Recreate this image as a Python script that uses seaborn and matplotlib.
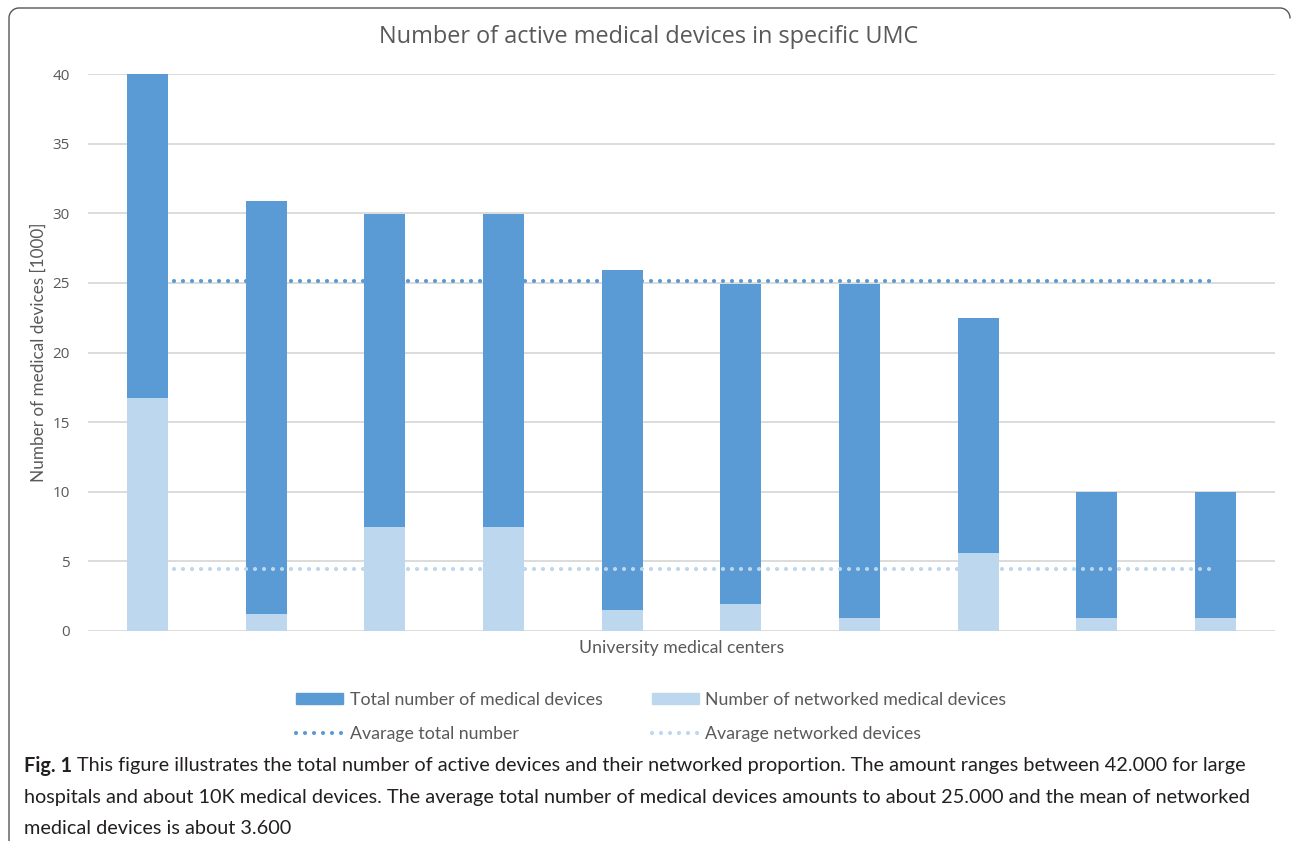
import numpy as np
import pandas as pd
import seaborn as sns
import matplotlib.pyplot as plt
from matplotlib.patches import Patch
from matplotlib.lines import Line2D

# Data (values in thousands of devices)
centers = ['UMC 1', 'UMC 2', 'UMC 3', 'UMC 4', 'UMC 5',
           'UMC 6', 'UMC 7', 'UMC 8', 'UMC 9', 'UMC 10']
total_devices = [40.0, 30.9, 29.95, 29.95, 25.9, 24.9, 24.9, 22.5, 10.0, 10.0]
networked_devices = [16.7, 1.2, 7.5, 7.5, 1.5, 1.95, 0.95, 5.6, 0.95, 0.95]
avg_total = 25.1
avg_networked = 4.45

dark_blue = '#5B9BD5'
light_blue = '#BDD7EE'
grey_text = '#595959'

df = pd.DataFrame({'center': centers, 'total': total_devices,
                   'networked': networked_devices})

sns.set_theme(style='white')
plt.rcParams['font.family'] = ['Open Sans', 'DejaVu Sans']

fig = plt.figure(figsize=(12.93, 8.41), dpi=100)
ax = fig.add_axes([88 / 1293, 1 - 631 / 841, (1275 - 88) / 1293, (631 - 74) / 841])

sns.barplot(data=df, x='center', y='total', color=dark_blue, width=0.345,
            saturation=1, linewidth=0, ax=ax, zorder=2)
sns.barplot(data=df, x='center', y='networked', color=light_blue, width=0.345,
            saturation=1, linewidth=0, ax=ax, zorder=3)

pos = np.arange(len(centers))
dots = dict(linestyle=(0, (0.01, 2.15)), dash_capstyle='round', linewidth=3.0)
sns.lineplot(x=pos, y=[avg_total] * len(pos), color=dark_blue, ax=ax, zorder=4, **dots)
sns.lineplot(x=pos, y=[avg_networked] * len(pos), color=light_blue, ax=ax, zorder=4, **dots)

ax.set_xlim(-0.5, len(centers) - 0.5)
ax.set_ylim(0, 40)
ax.set_yticks(range(0, 41, 5))
ax.set_xticks(pos)
ax.set_xticklabels([])
ax.yaxis.grid(True, color='#D9D9D9', linewidth=1.3, zorder=0)
ax.set_axisbelow(True)
for s in ax.spines.values():
    s.set_visible(False)
ax.tick_params(axis='both', length=0, labelsize=11, labelcolor=grey_text)
ax.tick_params(axis='y', pad=13)

ax.set_xlabel('University medical centers', fontsize=12.7, color=grey_text,
              family=['Lato', 'DejaVu Sans'], labelpad=3)
ax.set_ylabel('Number of medical devices [1000]', fontsize=12.3, color=grey_text,
              family=['Lato', 'DejaVu Sans'], labelpad=4)
fig.text(0.5015, 1 - 37 / 841, 'Number of active medical devices in specific UMC',
         ha='center', va='center', fontsize=16.9, color=grey_text)

handles = [Patch(color=dark_blue),
           Line2D([], [], color=dark_blue, **dots),
           Patch(color=light_blue),
           Line2D([], [], color=light_blue, **dots)]
labels = ['Total number of medical devices', 'Avarage total number',
          'Number of networked medical devices', 'Avarage networked devices']
leg = fig.legend(handles, labels, ncol=2, loc='upper left',
                 bbox_to_anchor=(296 / 1293, 1 - 692 / 841), frameon=False,
                 borderpad=0, borderaxespad=0, handlelength=2.64, handleheight=0.6,
                 handletextpad=0.39, columnspacing=2.75, labelspacing=1.02,
                 prop={'family': ['Lato', 'DejaVu Sans'], 'size': 12.8})
for t in leg.get_texts():
    t.set_color(grey_text)

# Figure frame (left and top edges with rounded corners)
r = 10
t1 = np.linspace(np.pi, np.pi / 2, 20)
t2 = np.linspace(np.pi / 2, 0, 20)
fx = np.concatenate([[9], 9 + r + r * np.cos(t1), 1290 - r + r * np.cos(t2)])
fy = np.concatenate([[841], 8 + r - r * np.sin(t1), 8 + r - r * np.sin(t2)])
fig.add_artist(Line2D(fx / 1293, 1 - fy / 841, color='#555555', linewidth=1.0,
                      transform=fig.transFigure))

# Caption
cap_font = ['Lato', 'DejaVu Sans']
cap_size = 14.3
cap_color = '#231F20'
fig.canvas.draw()
bold = fig.text(24 / 1293, 1 - 766 / 841, 'Fig. 1', fontsize=cap_size, weight='bold',
                family=cap_font, color=cap_color, va='center')
renderer = fig.canvas.get_renderer()
bb = bold.get_window_extent(renderer)
caption_lines = [
    'This figure illustrates the total number of active devices and their networked proportion. The amount ranges between 42.000 for large',
    'hospitals and about 10K medical devices. The average total number of medical devices amounts to about 25.000 and the mean of networked',
    'medical devices is about 3.600',
]
fig.text((bb.x1 + 5) / 1293, 1 - 766 / 841, caption_lines[0], fontsize=cap_size,
         family=cap_font, color=cap_color, va='center')
fig.text(24 / 1293, 1 - 797 / 841, caption_lines[1], fontsize=cap_size,
         family=cap_font, color=cap_color, va='center')
fig.text(24 / 1293, 1 - 828 / 841, caption_lines[2], fontsize=cap_size,
         family=cap_font, color=cap_color, va='center')

fig.savefig('out.png', dpi=100)
